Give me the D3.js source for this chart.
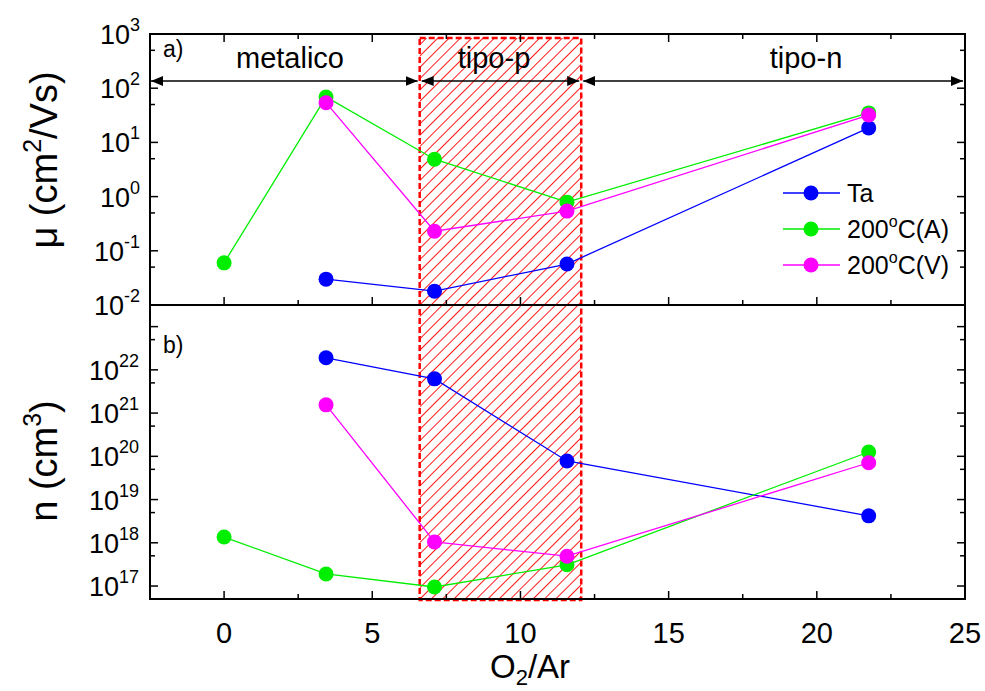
<!DOCTYPE html>
<html>
<head>
<meta charset="utf-8">
<script src="https://cdn.jsdelivr.net/npm/d3@7"></script>
<style>
  body { margin: 0; background: #fff; }
  text { font-family: 'Liberation Sans', Arial, sans-serif; fill: #000; }
</style>
</head>
<body>
<div id="chart"></div>
<script>
// O2/Ar ratio of each sample
var ratios = [0, 3.44, 7.1, 11.57, 21.75];

// mobility (cm2/Vs), null = no point
var muTa = [null, 0.030, 0.018, 0.057, 18.5];
var mu200A = [0.060, 69, 4.9, 0.79, 35];
var mu200V = [null, 54, 0.23, 0.54, 32];

// carrier concentration (cm-3)
var nTa = [null, 1.9e22, 6.2e21, 7.8e19, 4.2e18];
var n200A = [1.36e18, 1.9e17, 9.5e16, 3.1e17, 1.26e20];
var n200V = [null, 1.55e21, 1.05e18, 4.9e17, 7.1e19];

var seriesNames = ['Ta', '200\u00B0C(A)', '200\u00B0C(V)'];
var seriesColors = ['#0000ff', '#00ee00', '#ff00ff'];

// region limits along O2/Ar and their names
var regionBounds = [-2.5, 6.6, 12.05, 25];
var regionNames = ['metalico', 'tipo-p', 'tipo-n'];

var xTicks = [0, 5, 10, 15, 20, 25];
var muDecades = [-2, -1, 0, 1, 2, 3];
var nDecades = [17, 18, 19, 20, 21, 22];

var svgWidth = 985;
var svgHeight = 691;

var left = 150, right = 965;
var topA = 34, botA = 305, botB = 599;

var svg = d3.select('#chart')
    .append('svg')
    .attr('width', svgWidth)
    .attr('height', svgHeight);

var xScale = d3.scaleLinear()
    .domain([-2.5, 25])
    .range([left, right]);

var yMu = d3.scaleLog()
    .domain([1e-2, 1e3])
    .range([botA, topA]);

var yN = d3.scaleLog()
    .domain([Math.pow(10, 16.7), Math.pow(10, 23.5)])
    .range([botB, botA]);

// hatch pattern for the tipo-p region
var defs = svg.append('defs');
var pat = defs.append('pattern')
    .attr('id', 'hatch')
    .attr('patternUnits', 'userSpaceOnUse')
    .attr('width', 8)
    .attr('height', 8)
    .attr('patternTransform', 'rotate(45)');
pat.append('line')
    .attr('x1', 0).attr('y1', 0)
    .attr('x2', 0).attr('y2', 8)
    .attr('stroke', '#ff0000')
    .attr('stroke-width', 1.8);

defs.append('marker')
    .attr('id', 'arrow')
    .attr('viewBox', '0 0 12 10')
    .attr('refX', 12)
    .attr('refY', 5)
    .attr('markerWidth', 12)
    .attr('markerHeight', 10)
    .attr('markerUnits', 'userSpaceOnUse')
    .attr('orient', 'auto-start-reverse')
    .append('path')
    .attr('d', 'M0,0L12,5L0,10Z')
    .attr('fill', '#000');

// tipo-p hatched box
var hx0 = xScale(regionBounds[1]), hx1 = xScale(regionBounds[2]);
svg.append('rect')
    .attr('x', hx0)
    .attr('y', topA + 4)
    .attr('width', hx1 - hx0)
    .attr('height', botB - topA - 3)
    .attr('fill', 'url(#hatch)')
    .attr('stroke', '#ff0000')
    .attr('stroke-width', 2.5)
    .attr('stroke-dasharray', '6,3');

// ticks for one panel
function drawTicks(y, decades, yTop, yBot, showTop) {
    var g = svg.append('g').attr('stroke', '#000').attr('stroke-width', 1.5);
    decades.forEach(function (d) {
        var yy = y(Math.pow(10, d));
        if (yy >= yTop - 0.5 && yy <= yBot + 0.5) {
            g.append('line').attr('x1', left).attr('x2', left + 8).attr('y1', yy).attr('y2', yy);
            g.append('line').attr('x1', right).attr('x2', right - 8).attr('y1', yy).attr('y2', yy);
        }
        var ym = y(5 * Math.pow(10, d));
        if (ym >= yTop && ym <= yBot) {
            g.append('line').attr('x1', left).attr('x2', left + 5).attr('y1', ym).attr('y2', ym);
            g.append('line').attr('x1', right).attr('x2', right - 5).attr('y1', ym).attr('y2', ym);
        }
    });
    d3.range(-2.5, 25.01, 2.5).forEach(function (v) {
        var xx = xScale(v);
        var len = (v % 5 === 0) ? 8 : 5;
        g.append('line').attr('x1', xx).attr('x2', xx).attr('y1', yBot).attr('y2', yBot - len);
        if (showTop) {
            g.append('line').attr('x1', xx).attr('x2', xx).attr('y1', yTop).attr('y2', yTop + len);
        }
    });
}

drawTicks(yMu, muDecades, topA, botA, true);
drawTicks(yN, nDecades.concat([23]), botA, botB, false);

// frames
svg.append('rect')
    .attr('x', left).attr('y', topA)
    .attr('width', right - left).attr('height', botA - topA)
    .attr('fill', 'none').attr('stroke', '#000').attr('stroke-width', 2);
svg.append('rect')
    .attr('x', left).attr('y', botA)
    .attr('width', right - left).attr('height', botB - botA)
    .attr('fill', 'none').attr('stroke', '#000').attr('stroke-width', 2);

// y tick labels
function yLabels(y, decades, xEnd) {
    decades.forEach(function (d) {
        var t = svg.append('text')
            .attr('x', xEnd)
            .attr('y', y(Math.pow(10, d)) + 10)
            .attr('text-anchor', 'end')
            .attr('font-size', 27);
        t.append('tspan').text('10');
        t.append('tspan')
            .attr('font-size', 18)
            .attr('dy', -13)
            .text(d);
    });
}
yLabels(yMu, muDecades, 140);
yLabels(yN, nDecades, 139);

// x tick labels
svg.selectAll('.xlab')
    .data(xTicks)
    .enter()
    .append('text')
    .attr('x', d => xScale(d))
    .attr('y', 643)
    .attr('text-anchor', 'middle')
    .attr('font-size', 29)
    .text(d => d);

// region arrows and names
var arrowY = 81;
regionNames.forEach(function (name, i) {
    var x0 = xScale(regionBounds[i]) + (i === 0 ? 1 : 2);
    var x1 = xScale(regionBounds[i + 1]) - 2;
    svg.append('line')
        .attr('x1', x0).attr('x2', x1)
        .attr('y1', arrowY).attr('y2', arrowY)
        .attr('stroke', '#000')
        .attr('stroke-width', 1.5)
        .attr('marker-start', 'url(#arrow)')
        .attr('marker-end', 'url(#arrow)');
});
var nameX = [290, 494, 806];
regionNames.forEach(function (name, i) {
    svg.append('text')
        .attr('x', nameX[i])
        .attr('y', 68)
        .attr('text-anchor', 'middle')
        .attr('font-size', 29)
        .text(name);
});

svg.append('text').attr('x', 163).attr('y', 57).attr('font-size', 23).text('a)');
svg.append('text').attr('x', 163).attr('y', 353).attr('font-size', 23).text('b)');

// data lines and markers
function drawSeries(y, values, color) {
    var pts = ratios.map((r, i) => [r, values[i]]).filter(p => p[1] !== null);
    var line = d3.line()
        .x(p => xScale(p[0]))
        .y(p => y(p[1]));
    svg.append('path')
        .datum(pts)
        .attr('d', line)
        .attr('fill', 'none')
        .attr('stroke', color)
        .attr('stroke-width', 1.3);
    svg.selectAll(null)
        .data(pts)
        .enter()
        .append('circle')
        .attr('cx', p => xScale(p[0]))
        .attr('cy', p => y(p[1]))
        .attr('r', 7.5)
        .attr('fill', color);
}

var muSeries = [muTa, mu200A, mu200V];
var nSeries = [nTa, n200A, n200V];
muSeries.forEach((s, i) => drawSeries(yMu, s, seriesColors[i]));
nSeries.forEach((s, i) => drawSeries(yN, s, seriesColors[i]));

// legend
var legend = svg.append('g');
seriesNames.forEach(function (name, i) {
    var ly = 193 + i * 36;
    legend.append('line')
        .attr('x1', 783).attr('x2', 840)
        .attr('y1', ly).attr('y2', ly)
        .attr('stroke', seriesColors[i])
        .attr('stroke-width', 1.3);
    legend.append('circle')
        .attr('cx', 811).attr('cy', ly)
        .attr('r', 7.5)
        .attr('fill', seriesColors[i]);
    var t = legend.append('text')
        .attr('x', 847)
        .attr('y', ly + 9)
        .attr('font-size', 25);
    if (i === 0) {
        t.text(name);
    } else {
        t.append('tspan').text('200');
        t.append('tspan').attr('font-size', 16).attr('dy', -11).text('o');
        t.append('tspan').attr('dy', 11).text(i === 1 ? 'C(A)' : 'C(V)');
    }
});

// axis titles
var muTitle = svg.append('text')
    .attr('transform', 'translate(57,' + 160 + ') rotate(-90)')
    .attr('text-anchor', 'middle')
    .attr('font-size', 38);
muTitle.append('tspan').text('\u03BC (cm');
muTitle.append('tspan').attr('font-size', 25).attr('dy', -16).text('2');
muTitle.append('tspan').attr('dy', 16).text('/Vs)');

var nTitle = svg.append('text')
    .attr('transform', 'translate(57,' + 461 + ') rotate(-90)')
    .attr('text-anchor', 'middle')
    .attr('font-size', 38);
nTitle.append('tspan').text('n (cm');
nTitle.append('tspan').attr('font-size', 25).attr('dy', -16).text('3');
nTitle.append('tspan').attr('dy', 16).text(')');

var xTitle = svg.append('text')
    .attr('x', 530)
    .attr('y', 678)
    .attr('text-anchor', 'middle')
    .attr('font-size', 33);
xTitle.append('tspan').text('O');
xTitle.append('tspan').attr('font-size', 22).attr('dy', 7).text('2');
xTitle.append('tspan').attr('dy', -7).text('/Ar');
</script>
</body>
</html>
